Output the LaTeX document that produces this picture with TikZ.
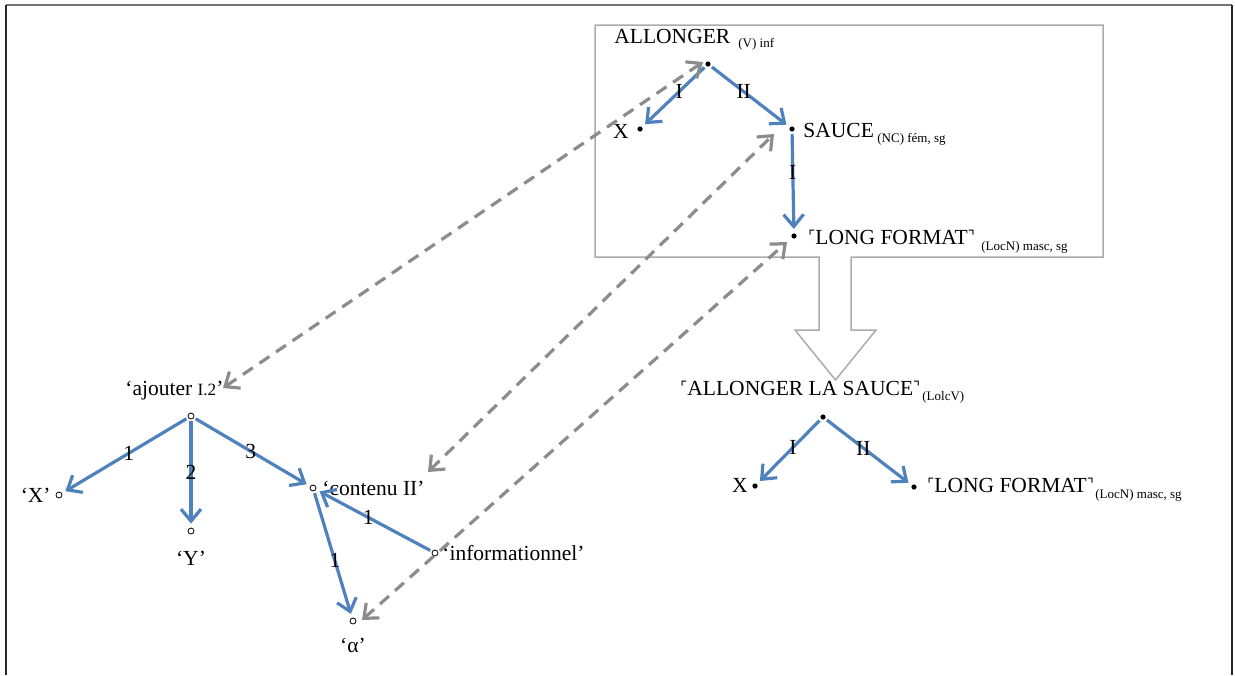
\documentclass[tikz,border=0pt]{standalone}
\usepackage{fontspec}
\setmainfont{Liberation Serif}
\newfontfamily\cornerfont{DejaVu Sans}
\usetikzlibrary{arrows.meta}
\definecolor{relblue}{HTML}{4F81BD}
\definecolor{corrgrey}{HTML}{8C8C8C}
\definecolor{boxgrey}{HTML}{ABABAB}
\newcommand{\lcorn}{\raisebox{1.2pt}{\cornerfont\fontsize{7.5}{8}\selectfont\char"231C}}
\newcommand{\rcorn}{\raisebox{1.2pt}{\cornerfont\fontsize{7.5}{8}\selectfont\char"231D}}

\begin{document}
\begin{tikzpicture}[x=0.5pt, y=-0.5pt,
  font=\fontsize{10.75}{13}\selectfont,
  every node/.style={inner sep=0pt},
  dot/.style={circle, fill=black, minimum size=2.6pt},
  odot/.style={circle, draw=black, line width=0.4pt, minimum size=3pt},
  txt/.style={anchor=base west},
  sub/.style={anchor=base west, font=\fontsize{6.5}{8}\selectfont},
  rel/.style={relblue, line width=1.6pt, -{Straight Barb[length=6pt,width=10pt]}, shorten >=2pt, shorten <=1pt},
  corr/.style={corrgrey, line width=1.6pt, dash pattern=on 6pt off 4pt,
    {Straight Barb[length=6pt,width=10pt]}-{Straight Barb[length=6pt,width=10pt]}},
  lab/.style={text=black, pos=0.42}]
  \useasboundingbox (0,0) rectangle (1235,675);
  \draw[black!55, line width=1pt] (6,5) -- (1232,5);
  \draw[black!85, line width=1pt] (6,5) -- (6,675);
  \draw[black!85, line width=1pt] (1232,5) -- (1232,675);

  \draw[boxgrey, line width=0.75pt] (595,25) -- (1103,25) -- (1103,257) -- (851,257) -- (851,330)
    -- (876,330) -- (835.5,380) -- (795,330) -- (819,330) -- (819,257) -- (595,257) -- cycle;

  \node[txt] (allongertxt) at (614,43) {ALLONGER};
  \node[sub] (allongersub) at (738,47) {(V) inf};
  \node[dot] (allonger) at (708,64) {};
  \node[dot] (xa) at (640,129) {};
  \node[anchor=base east] (xatxt) at (629,138) {X};
  \node[dot] (sauce) at (792,129) {};
  \node[txt] (saucetxt) at (803,137) {SAUCE};
  \node[sub] (saucesub) at (877,142) {(NC) fém, sg};
  \node[dot] (lfa) at (794,236) {};
  \node[txt] (lfatxt) at (808,244) {\lcorn LONG FORMAT\rcorn};
  \node[sub] (lfasub) at (981,250) {(LocN) masc, sg};

  \node[txt] (alstxt) at (680,395) {\lcorn ALLONGER LA SAUCE\rcorn};
  \node[sub] (alssub) at (922,400) {(LolcV)};
  \node[dot] (als) at (823,417) {};
  \node[dot] (xb) at (755,486) {};
  \node[anchor=base east] (xbtxt) at (748,492) {X};
  \node[dot] (lfb) at (914,487) {};
  \node[txt] (lfbtxt) at (927,492) {\lcorn LONG FORMAT\rcorn};
  \node[sub] (lfbsub) at (1095,498) {(LocN) masc, sg};

  \node[txt] (ajoutertxt) at (125,395) {‘ajouter {\fontsize{8.6}{10}\selectfont I.2}’};
  \node[odot] (ajouter) at (191,416) {};
  \node[odot] (xq) at (59,495) {};
  \node[anchor=base east] (xqtxt) at (51,502) {‘X’};
  \node[odot] (yq) at (191,531) {};
  \node[anchor=base] (yqtxt) at (191,565) {‘Y’};
  \node[odot] (contenu) at (313,488) {};
  \node[txt] (contenutxt) at (322,495) {‘contenu II’};
  \node[odot] (info) at (435,553) {};
  \node[txt] (infotxt) at (442,560) {‘informationnel’};
  \node[odot] (alpha) at (353,621) {};
  \node[anchor=base] (alphatxt) at (353,652) {‘α’};

  \draw[rel] (allonger) -- node[lab] {I} (xa);
  \draw[rel] (allonger) -- node[lab] {II} (sauce);
  \draw[rel] (sauce) -- node[lab, pos=0.4] {I} (lfa);
  \draw[rel] (als) -- node[lab, pos=0.44] {I} (xb);
  \draw[rel] (als) -- node[lab, pos=0.44] {II} (lfb);
  \draw[rel] (ajouter) -- node[lab, pos=0.47] {1} (xq);
  \draw[rel] (ajouter) -- node[lab, pos=0.49] {2} (yq);
  \draw[rel] (ajouter) -- node[lab, pos=0.49] {3} (contenu);
  \draw[rel] (info) -- node[lab, pos=0.55] {1} (contenu);
  \draw[rel] (contenu) -- node[lab, pos=0.55] {1} (alpha);

  \draw[corr] ([shift={(32,-28)}]ajouter.center) -- ([shift={(-5,-2)}]allonger.center);
  \draw[corr] ([shift={(115,-16)}]contenu.center) -- ([shift={(-18,5)}]sauce.center);
  \draw[corr] ([shift={(9,-1)}]alpha.center) -- ([shift={(-7,6)}]lfa.center);
\end{tikzpicture}
\end{document}
